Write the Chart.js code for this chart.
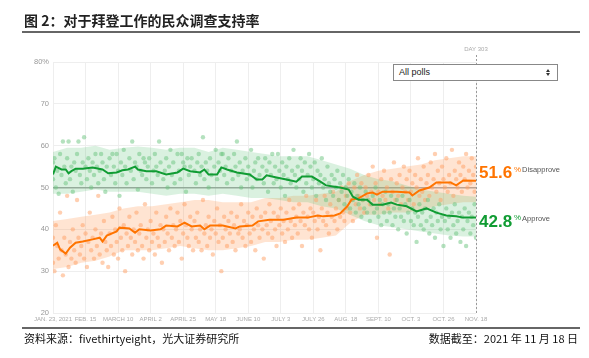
<!DOCTYPE html>
<html>
<head>
<meta charset="utf-8">
<script src="https://cdn.jsdelivr.net/npm/chart.js@4/dist/chart.umd.min.js"></script>
<style>
  body { margin:0; background:#fff; }
  #wrap { position:relative; width:589px; height:358px; overflow:hidden; }
  #c { position:absolute; left:0; top:0; }
  .title { position:absolute; left:24px; top:10px; font:bold 14px "Noto Sans CJK SC", sans-serif; color:#222; white-space:nowrap; }
  .rule { position:absolute; left:22px; width:558px; height:2px; background:#666; }
  .foot { position:absolute; top:330px; font:11px "Noto Sans CJK SC", sans-serif; color:#111; white-space:nowrap; }
  .sel { position:absolute; left:393px; top:64px; width:158px; height:15px; border:1px solid #888; background:#fff;
         font:9px "Liberation Sans", Arial, sans-serif; color:#222; line-height:15px; padding-left:5px; box-sizing:content-box; }
  .sel .up, .sel .dn { position:absolute; right:7px; width:0; height:0; border-left:2.5px solid transparent; border-right:2.5px solid transparent; }
  .sel .up { top:4px; border-bottom:3px solid #333; }
  .sel .dn { top:8px; border-top:3px solid #333; }
</style>
</head>
<body>
<div id="wrap">
  <canvas id="c" width="589" height="358"></canvas>
  <div class="title">图 2：对于拜登工作的民众调查支持率</div>
  <div class="rule" style="top:31px"></div>
  <div class="sel">All polls<span class="up"></span><span class="dn"></span></div>
  <div class="rule" style="top:327px"></div>
  <div class="foot" style="left:24px">资料来源：fivethirtyeight，光大证券研究所</div>
  <div class="foot" style="right:11px">数据截至：2021 年 11 月 18 日</div>
</div>
<script>
// x = days since Jan 23, 2021 (Nov 18 = 299 = "DAY 303")
var tickLabels = ['JAN. 23, 2021','FEB. 15','MARCH 10','APRIL 2','APRIL 25','MAY 18','JUNE 10','JULY 3','JULY 26','AUG. 18','SEPT. 10','OCT. 3','OCT. 26','NOV. 18'];

// approve average
var apDays = [0,2,6,9,11,13,16,21,28,35,39,45,49,53,58,60,66,73,80,88,92,97,104,107,110,116,119,123,130,139,144,148,151,158,165,172,176,183,189,193,199,203,209,212,216,222,226,233,239,243,250,257,264,271,278,285,290,299];
var apVals = [53.1,55.0,54.3,54.3,53.4,53.9,54.5,54.5,54.8,54.3,53.4,53.6,54.1,54.3,55.0,54.3,53.9,53.9,53.1,53.6,54.5,53.9,53.6,54.3,53.1,53.1,54.8,54.3,53.6,53.1,51.9,51.9,52.9,52.4,51.9,51.4,52.6,52.6,51.4,50.5,50.2,50.0,49.5,47.8,47.1,47.1,45.9,45.9,46.4,45.9,45.5,44.3,45.0,44.0,43.3,43.1,42.8,42.8];

// disapprove average
var dpDays = [0,3,5,9,12,16,21,28,33,35,38,45,47,54,58,61,69,76,80,88,93,98,104,107,111,120,129,132,141,145,153,163,172,180,187,191,199,203,208,211,216,222,226,229,233,243,252,254,259,266,271,281,285,290,299];
var dpVals = [36.1,36.8,35.2,34.2,35.6,36.8,37.1,37.6,38.0,37.1,38.5,39.5,40.4,40.2,39.2,40.0,39.7,40.0,40.9,40.7,41.6,40.7,40.9,40.0,40.9,40.9,40.2,40.7,40.9,41.9,42.3,42.3,42.8,42.8,43.3,43.1,43.3,43.8,45.5,47.1,47.4,48.6,48.8,48.3,49.0,49.0,48.8,48.1,49.3,50.0,51.2,51.2,50.5,51.7,51.6];

// uncertainty bands
var bandDays = [0,10,20,30,40,50,60,70,80,90,100,110,120,130,140,150,160,170,180,190,200,210,220,230,240,250,260,270,280,290,299];
var apHi = [58.5,59.5,59.5,60,59,59.5,59.8,59.5,59,59.5,59.5,58.5,59.5,59,58.5,58,57.5,57.5,57.5,56.5,55.5,54.5,53,52,51.5,50.5,49.5,49,48.5,48,47.8];
var apLo = [48.5,48.5,49,49.5,49,49,49,48.5,48,48.5,48.5,48,48.5,48,47.5,47.5,47,46.5,46.5,45.5,45,43.5,42,41,40.5,40,39.5,39,38.5,38.3,38.3];
var dpHi = [42,42.5,43,43.5,44,45,45.5,45.5,46,46.5,47,47,46.5,46.5,46.5,47.5,47.5,48,48,48.5,49,51.5,53,54,54.5,55,55.5,56.5,57,57.5,57.5];
var dpLo = [30.5,31,32,32.5,33.5,35,35,35,35.5,36,35.5,35,35,35.5,36,37,37,37.5,37.5,38,38.5,41.5,43.5,43.5,44,44,44.5,45.5,46,46.5,46.5];

// individual polls [day, value]
var apPolls = [[0,52],[0,56],[1,57],[2,50],[3,54],[4,48.5],[5,58],[6,53],[7,61],[8,55],[9,51],[10,57],[11,61],[12,52],[13,55],[14,49],[15,56],[16,54],[17,58],[18,61],[19,53],[20,51],[21,56],[22,62],[23,55],[24,52],[25,57],[26,54],[27,50],[28,56],[29,53],[30,58],[31,55],[32,51],[33,54],[34,58],[35,56],[36,52],[37,49],[38,55],[40,57],[41,53],[42,58],[43,55],[44,51],[45,58],[46,54],[47,48],[48,56],[49,53],[50,59],[51,55],[52,51],[54,57],[55,54],[56,61],[57,52],[58,56],[59,55],[60,49.5],[61,58],[62,54],[63,53],[64,57],[65,56],[66,52],[67,55],[68,57],[70,51],[71,54],[72,58],[73,55],[74,53],[75,61],[76,56],[78,52],[79,54],[80,57],[81,50],[82,55],[83,59],[84,53],[85,56],[86,51],[88,58],[89,54],[90,52],[91,58],[92,56],[93,55],[94,49],[95,57],[96,53],[97,55],[98,57],[100,54],[101,51],[102,56],[103,58],[104,53],[105,55],[106,62],[107,52],[108,56],[109,54],[110,50],[111,57],[112,53],[114,55],[115,59],[116,52],[117,56],[118,54],[119,58],[120,58],[121,53],[122,55],[123,51],[124,57],[126,54],[127,52],[128,58],[129,55],[130,61],[131,53],[132,56],[133,50],[134,54],[136,57],[137,52],[138,55],[139,53],[140,59],[141,50],[142,54],[143,56],[144,52],[145,57],[146,53],[148,55],[149,51],[150,57],[151,54],[152,49],[153,56],[154,53],[155,58],[156,51],[157,55],[158,52],[159,58],[160,54],[161,50],[162,56],[163,53],[164,48],[165,55],[166,52],[167,57],[168,51],[169,54],[170,59],[171,53],[172,50],[173,55],[174,52],[175,57],[176,54],[177,49],[178,56],[179,51],[180,53],[181,58],[182,55],[183,50],[184,52],[185,56],[186,48],[187,54],[188,51],[189,53],[190,57],[191,50],[192,52],[193,47],[194,55],[195,51],[196,49],[197,53],[198,48],[199,52],[200,50],[201,54],[202,47],[203,51],[204,49],[205,53],[206,46],[207,50],[208,48],[209,52],[210,45],[211,49],[212,47],[213,51],[214,44],[215,48],[216,46],[217,50],[218,43],[219,47],[220,45],[221,49],[222,44],[223,47],[224,42],[225,46],[226,48],[227,44],[228,50],[229,45],[230,43],[231,47],[232,41],[233,46],[234,44],[235,49],[236,42],[237,46],[238,44],[239,48],[240,41],[241,45],[242,43],[243,47],[244,40],[245,45],[246,43],[247,48],[248,42],[249,46],[250,39],[251,44],[252,47],[253,42],[254,45],[255,41],[256,44],[257,37],[258,43],[259,46],[260,41],[261,44],[262,40],[263,45],[264,42],[265,47],[266,39],[267,43],[268,41],[269,45],[270,38],[271,44],[272,42],[273,46],[274,40],[275,43],[276,36],[277,42],[278,45],[279,40],[280,43],[281,38],[282,44],[283,41],[284,46],[285,39],[286,42],[287,44],[288,37],[289,43],[290,40],[291,45],[292,36],[293,42],[294,44],[295,39],[296,43],[297,41],[298,46],[299,38]];
var dpPolls = [[0,32],[0,38],[1,30],[2,41],[3,36],[4,33],[5,44],[6,35],[7,29],[8,38],[9,34],[10,48],[11,31],[12,37],[13,33],[14,40],[15,35],[16,32],[17,47],[18,38],[19,34],[20,36],[21,41],[22,33],[23,39],[24,31],[25,37],[26,44],[27,35],[28,38],[29,33],[30,40],[31,36],[32,48],[33,34],[34,39],[35,32],[36,42],[37,37],[38,35],[39,31],[40,39],[41,36],[42,43],[43,34],[44,40],[45,37],[46,33],[47,45],[48,38],[49,35],[50,41],[51,30],[52,39],[53,36],[54,43],[55,38],[56,34],[57,40],[58,37],[59,44],[60,35],[61,39],[62,41],[63,36],[64,33],[65,46],[66,38],[67,40],[68,35],[69,42],[70,37],[71,39],[72,34],[73,44],[74,38],[75,36],[76,41],[77,32],[78,40],[79,37],[80,43],[81,39],[82,35],[83,45],[84,38],[85,41],[86,36],[87,40],[88,44],[89,37],[90,42],[91,33],[92,39],[93,46],[94,41],[95,38],[96,36],[97,43],[98,40],[99,35],[100,42],[101,38],[102,44],[103,37],[104,40],[105,35],[106,47],[107,39],[108,41],[109,36],[110,43],[111,38],[112,40],[113,34],[114,42],[115,39],[116,45],[117,37],[118,41],[119,30],[120,38],[121,43],[122,40],[123,36],[124,42],[125,39],[126,44],[127,37],[128,41],[129,35],[130,43],[131,39],[132,40],[133,46],[134,38],[135,42],[136,36],[137,41],[138,44],[139,39],[140,37],[141,43],[142,40],[143,35],[144,45],[145,41],[146,38],[147,43],[148,40],[149,33],[150,44],[151,41],[152,39],[153,46],[154,42],[155,38],[156,44],[157,40],[158,36],[159,43],[160,41],[161,45],[162,39],[163,42],[164,37],[165,44],[166,40],[167,47],[168,42],[169,38],[170,45],[171,41],[172,43],[173,39],[174,46],[175,42],[176,36],[177,44],[178,41],[179,48],[180,43],[181,40],[182,45],[183,38],[184,44],[185,42],[186,47],[187,40],[188,43],[189,35],[190,45],[191,42],[192,48],[193,41],[194,44],[195,39],[196,46],[197,43],[198,49],[199,42],[200,45],[201,40],[202,47],[203,43],[204,50],[205,44],[206,42],[207,48],[208,45],[209,51],[210,44],[211,47],[212,42],[213,50],[214,46],[215,53],[216,48],[217,45],[218,51],[219,47],[220,44],[221,50],[222,48],[223,53],[224,46],[225,49],[226,55],[227,47],[228,51],[229,38],[230,49],[231,46],[232,52],[233,48],[234,54],[235,47],[236,50],[237,45],[238,34],[239,52],[240,49],[241,56],[242,47],[243,51],[244,48],[245,53],[246,46],[247,50],[248,55],[249,49],[250,52],[251,47],[252,54],[253,49],[254,51],[255,46],[256,53],[257,50],[258,57],[259,48],[260,52],[261,49],[262,55],[263,47],[264,51],[265,53],[266,48],[267,56],[268,50],[269,52],[270,58],[271,49],[272,54],[273,51],[274,47],[275,55],[276,52],[277,50],[278,57],[279,49],[280,53],[281,51],[282,59],[283,48],[284,54],[285,52],[286,50],[287,56],[288,53],[289,49],[290,55],[291,52],[292,58],[293,50],[294,54],[295,51],[296,57],[297,53],[298,49],[299,55]];

var GREEN = '#109c33', ORANGE = '#ff7400';

function pts(xs, ys) {
  return xs.map(function(x, i){ return {x: x, y: ys[i]}; });
}
function pairs(a) {
  return a.map(function(p){ return {x: p[0], y: p[1]}; });
}

// end labels + "day 303" marker
var endLabels = {
  id: 'endLabels',
  afterDraw: function(chart) {
    var ctx = chart.ctx, xs = chart.scales.x, ys = chart.scales.y, area = chart.chartArea;
    var xe = xs.getPixelForValue(299);
    ctx.save();
    ctx.strokeStyle = '#9a9a9a';
    ctx.lineWidth = 1;
    ctx.setLineDash([2, 2]);
    ctx.beginPath();
    ctx.moveTo(xe + 0.5, 55);
    ctx.lineTo(xe + 0.5, area.bottom);
    ctx.stroke();
    ctx.setLineDash([]);
    ctx.fillStyle = '#aaa';
    ctx.font = '6px "Liberation Sans", Arial, sans-serif';
    ctx.textAlign = 'center';
    ctx.textBaseline = 'middle';
    ctx.fillText('DAY 303', xe, 49);

    var rows = [
      {v: dpVals[dpVals.length - 1], c: ORANGE, t: 'Disapprove', dy: -8.5},
      {v: apVals[apVals.length - 1], c: GREEN, t: 'Approve', dy: 3.5}
    ];
    rows.forEach(function(r) {
      var y = ys.getPixelForValue(r.v) + r.dy;
      var x = xe + 3;
      ctx.textAlign = 'left';
      ctx.textBaseline = 'middle';
      ctx.fillStyle = r.c;
      ctx.font = 'bold 17px "Liberation Sans", Arial, sans-serif';
      var s = r.v.toFixed(1);
      ctx.fillText(s, x, y + 1);
      var w = ctx.measureText(s).width;
      ctx.font = '8px "Liberation Sans", Arial, sans-serif';
      ctx.fillText('%', x + w + 2, y - 3);
      ctx.fillStyle = '#555';
      ctx.font = '7.5px "Liberation Sans", Arial, sans-serif';
      ctx.fillText(r.t, x + w + 10, y - 2);
    });
    ctx.restore();
  }
};

var chart = new Chart(document.getElementById('c').getContext('2d'), {
  type: 'scatter',
  data: {
    datasets: [
      {data: pts(apDays, apVals), showLine: true, borderColor: GREEN, borderWidth: 2, pointRadius: 0, fill: false},
      {data: pts(dpDays, dpVals), showLine: true, borderColor: ORANGE, borderWidth: 2, pointRadius: 0, fill: false},
      {data: pairs(apPolls), backgroundColor: 'rgba(105,195,125,0.5)', borderWidth: 0, pointRadius: 2.2},
      {data: pairs(dpPolls), backgroundColor: 'rgba(255,160,100,0.5)', borderWidth: 0, pointRadius: 2.2},
      {data: pts(bandDays, apHi), showLine: true, borderWidth: 0, borderColor: 'rgba(0,0,0,0)', pointRadius: 0, fill: false},
      {data: pts(bandDays, apLo), showLine: true, borderWidth: 0, borderColor: 'rgba(0,0,0,0)', pointRadius: 0, fill: 4, backgroundColor: 'rgba(70,185,100,0.2)'},
      {data: pts(bandDays, dpHi), showLine: true, borderWidth: 0, borderColor: 'rgba(0,0,0,0)', pointRadius: 0, fill: false},
      {data: pts(bandDays, dpLo), showLine: true, borderWidth: 0, borderColor: 'rgba(0,0,0,0)', pointRadius: 0, fill: 6, backgroundColor: 'rgba(255,150,80,0.26)'}
    ]
  },
  options: {
    responsive: false,
    animation: false,
    layout: {padding: {left: 23, right: 113, top: 62, bottom: 31}},
    plugins: {legend: {display: false}, tooltip: {enabled: false}},
    scales: {
      x: {
        type: 'linear', min: 0, max: 299,
        afterFit: function(s){ s.height = 14; },
        ticks: {
          stepSize: 23, autoSkip: false, maxRotation: 0, padding: 3,
          color: '#aaa', font: {size: 6, family: '"Liberation Sans", Arial, sans-serif'},
          callback: function(v){ return tickLabels[Math.round(v / 23)]; }
        },
        grid: {color: '#eee', drawTicks: false},
        border: {display: false}
      },
      y: {
        min: 20, max: 80,
        afterFit: function(s){ s.width = 30; },
        ticks: {
          stepSize: 10, padding: 4,
          color: '#999', font: {size: 7.5, family: '"Liberation Sans", Arial, sans-serif'},
          callback: function(v){ return v === 80 ? '80%' : v; }
        },
        grid: {
          drawTicks: false,
          color: function(c){ return c.tick && c.tick.value === 50 ? '#a8a8a8' : '#eee'; },
          lineWidth: function(c){ return c.tick && c.tick.value === 50 ? 1.5 : 1; }
        },
        border: {display: false}
      }
    }
  },
  plugins: [endLabels]
});
</script>
</body>
</html>
